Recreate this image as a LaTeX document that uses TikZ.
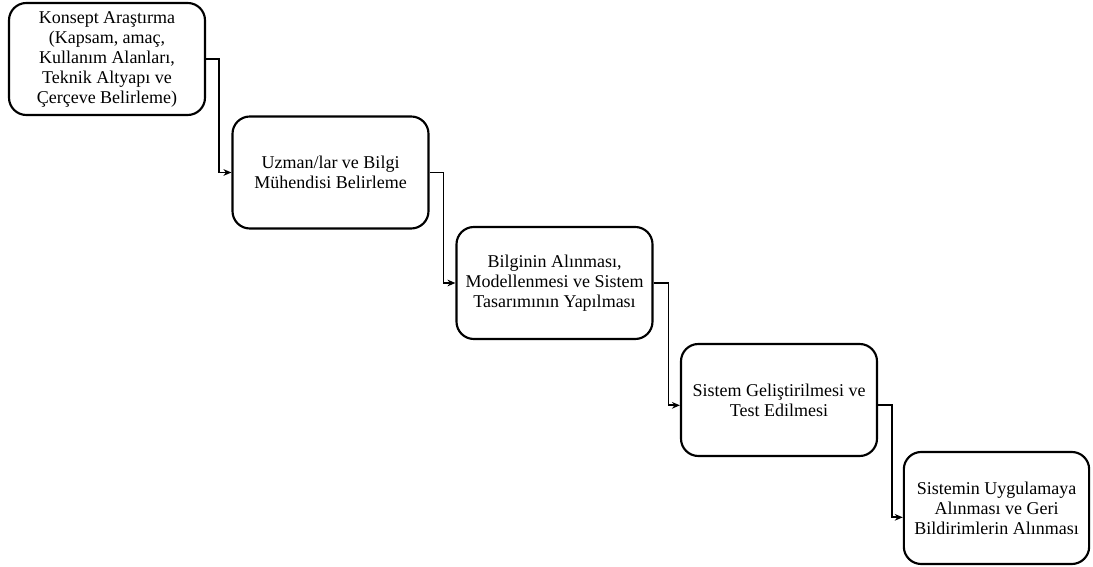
\documentclass[tikz,border=0pt]{standalone}
\usepackage{fontspec}
\setmainfont{Liberation Serif}
\usepackage{xcolor}
\usetikzlibrary{arrows.meta}

\begin{document}
\begin{tikzpicture}[x=0.75pt,y=0.75pt,>={Stealth[length=6pt,width=5pt]},
  stagebox/.style={draw,rounded corners=13pt,line width=1.6pt,align=center,
    minimum width=147pt,minimum height=84pt,inner sep=2pt,
    font=\fontsize{13.5}{15}\selectfont},
  link/.style={->,line width=1.3pt}]
  \useasboundingbox (0,0) rectangle (1093,567);
  \node[stagebox] (s1) at (107,508) {Konsept Araştırma\\(Kapsam, amaç,\\Kullanım Alanları,\\Teknik Altyapı ve\\Çerçeve Belirleme)};
  \node[stagebox] (s2) at (330.5,394.5) {Uzman/lar ve Bilgi\\Mühendisi Belirleme};
  \node[stagebox] (s3) at (554.5,284) {Bilginin Alınması,\\Modellenmesi ve Sistem\\Tasarımının Yapılması};
  \node[stagebox] (s4) at (779,167) {Sistem Geliştirilmesi ve\\Test Edilmesi};
  \node[stagebox,minimum width=139pt] (s5) at (996.5,59) {Sistemin Uygulamaya\\Alınması ve Geri\\Bildirimlerin Alınması};
  \draw[link] (s1.east) -- ++(13,0) |- (s2.west);
  \draw[link] (s2.east) -- ++(14,0) |- (s3.west);
  \draw[link] (s3.east) -- ++(15,0) |- ([yshift=-4pt]s4.west);
  \draw[link] ([yshift=-4pt]s4.east) -- ++(14,0) |- ([yshift=-7pt]s5.west);
\end{tikzpicture}
\end{document}
